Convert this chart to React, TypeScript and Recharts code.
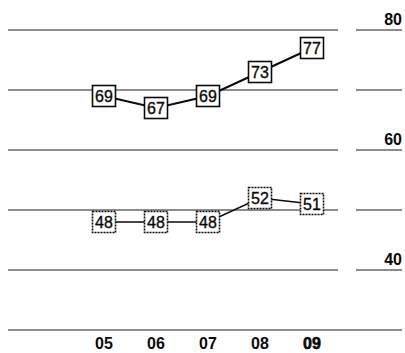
import React from 'react';
import { ComposedChart, Line, XAxis, YAxis, ReferenceLine } from 'recharts';

const years = ['05', '06', '07', '08', '09'];
const upperSeries = [69, 67, 69, 73, 77];
const lowerSeries = [48, 48, 48, 52, 51];
const yTicks = [40, 60, 80];
const gridValues = [80, 70, 60, 50, 40];

const data = years.map((year, i) => ({
  year,
  upper: upperSeries[i],
  lower: lowerSeries[i],
}));

const FONT = 'Liberation Sans, Arial, Helvetica, sans-serif';
const INK = '#0a0a0a';
const RULE = '#1a1a1a';

// Split grid rule: a long run across the plot, a short run under the scale labels
const SplitRule = (props: any) => {
  const left = Math.min(props.x1, props.x2);
  const right = Math.max(props.x1, props.x2);
  const y = props.y1;
  return (
    <g>
      <line x1={left} x2={left + 330} y1={y} y2={y} stroke={RULE} strokeWidth={1.2} />
      <line x1={right - 46} x2={right} y1={y} y2={y} stroke={RULE} strokeWidth={1.2} />
    </g>
  );
};

const makeBox = (dashed: boolean) => (p: any) => {
  const { cx, cy, value, index } = p;
  if (cx == null || cy == null) return <g key={`b-${index}`} />;
  return (
    <g key={`b-${dashed ? 'l' : 'u'}-${index}`}>
      <rect
        x={cx - 11.5}
        y={cy - 10.5}
        width={23}
        height={21}
        fill="#fff"
        stroke={INK}
        strokeWidth={1.6}
        strokeDasharray={dashed ? '2 1' : undefined}
      />
      <text
        x={cx}
        y={cy + 6}
        textAnchor="middle"
        fontFamily={FONT}
        fontSize={16}
        fill={INK}
        stroke={INK}
        strokeWidth={0.35}
      >
        {value}
      </text>
    </g>
  );
};

const ScaleTick = (props: any) => {
  const { x, y, payload } = props;
  return (
    <text x={x} y={y - 5} textAnchor="end" fontFamily={FONT} fontSize={16} fontWeight="bold" fill={INK}>
      {payload.value}
    </text>
  );
};

const YearTick = (props: any) => {
  const { x, y, payload } = props;
  const strong = payload.value === '09';
  return (
    <text
      x={x}
      y={y + 11}
      textAnchor="middle"
      fontFamily={FONT}
      fontSize={16}
      fontWeight="bold"
      fill={INK}
      stroke={strong ? INK : 'none'}
      strokeWidth={strong ? 0.6 : 0}
    >
      {payload.value}
    </text>
  );
};

export default function App() {
  return (
    <div style={{ position: 'absolute', left: 0, top: 0, width: 405, height: 353, background: '#fff' }}>
      <ComposedChart
        width={405}
        height={353}
        data={data}
        margin={{ top: 30, right: 2, bottom: 0, left: 8 }}
      >
        <XAxis
          dataKey="year"
          height={23}
          padding={{ left: 96, right: 90 }}
          axisLine={{ stroke: RULE, strokeWidth: 1.2 }}
          tickLine={false}
          tick={<YearTick />}
          interval={0}
        />
        <YAxis
          orientation="right"
          width={1}
          domain={[30, 80]}
          ticks={yTicks}
          axisLine={false}
          tickLine={false}
          tickSize={0}
          tickMargin={0}
          tick={<ScaleTick />}
        />
        {gridValues.map((v) => (
          <ReferenceLine key={v} y={v} shape={SplitRule} ifOverflow="extendDomain" />
        ))}
        <Line
          dataKey="lower"
          stroke={INK}
          strokeWidth={1.6}
          dot={makeBox(true)}
          activeDot={false}
          isAnimationActive={false}
        />
        <Line
          dataKey="upper"
          stroke={INK}
          strokeWidth={2}
          dot={makeBox(false)}
          activeDot={false}
          isAnimationActive={false}
        />
      </ComposedChart>
    </div>
  );
}
